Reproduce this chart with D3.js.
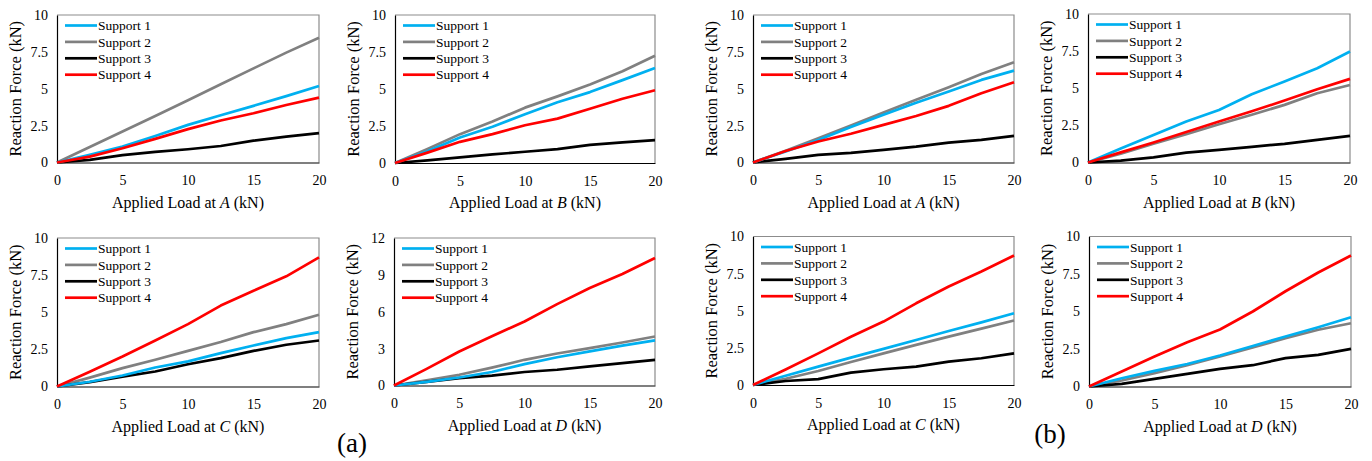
<!DOCTYPE html>
<html>
<head>
<meta charset="utf-8">
<script src="https://cdn.jsdelivr.net/npm/d3@7"></script>
<style>
  html, body { margin: 0; padding: 0; background: #fff; }
  svg { display: block; font-family: "Liberation Serif", "Times New Roman", serif; }
</style>
</head>
<body>
<svg id="chart" width="1372" height="461"></svg>
<script>
// Applied load steps (kN), shared by every panel
const load = [0, 2.5, 5, 7.5, 10, 12.5, 15, 17.5, 20];
const xTicks = [0, 5, 10, 15, 20];
const supports = ["Support 1", "Support 2", "Support 3", "Support 4"];

// Reaction forces (kN) for Supports 1-4, group (a)
const reactA_a = [
  [0, 0.52, 1.08, 1.80, 2.55, 3.20, 3.84, 4.50, 5.19],
  [0, 1.05, 2.10, 3.15, 4.22, 5.30, 6.38, 7.45, 8.46],
  [0, 0.18, 0.50, 0.72, 0.90, 1.12, 1.48, 1.75, 1.99],
  [0, 0.40, 0.97, 1.60, 2.26, 2.85, 3.34, 3.90, 4.40]
];
const reactB_a = [
  [0, 0.80, 1.72, 2.45, 3.29, 4.10, 4.79, 5.60, 6.42],
  [0, 0.95, 1.95, 2.80, 3.74, 4.50, 5.30, 6.20, 7.25],
  [0, 0.18, 0.38, 0.58, 0.76, 0.94, 1.23, 1.39, 1.54],
  [0, 0.70, 1.43, 1.95, 2.55, 3.00, 3.67, 4.34, 4.92]
];
const reactC_a = [
  [0, 0.32, 0.74, 1.28, 1.69, 2.25, 2.76, 3.26, 3.66],
  [0, 0.60, 1.24, 1.80, 2.40, 3.00, 3.66, 4.20, 4.83],
  [0, 0.30, 0.67, 1.01, 1.50, 1.91, 2.40, 2.81, 3.10],
  [0, 1.00, 2.02, 3.10, 4.20, 5.45, 6.45, 7.42, 8.70]
];
const reactD_a = [
  [0, 0.30, 0.65, 1.10, 1.74, 2.30, 2.77, 3.25, 3.67],
  [0, 0.42, 0.87, 1.45, 2.09, 2.60, 3.04, 3.50, 3.99],
  [0, 0.30, 0.60, 0.81, 1.10, 1.28, 1.55, 1.82, 2.09],
  [0, 1.35, 2.77, 4.00, 5.21, 6.62, 7.93, 9.07, 10.37]
];

// Reaction forces (kN) for Supports 1-4, group (b)
const reactA_b = [
  [0, 0.75, 1.53, 2.40, 3.23, 4.05, 4.81, 5.60, 6.23],
  [0, 0.80, 1.65, 2.50, 3.39, 4.25, 5.10, 6.00, 6.79],
  [0, 0.25, 0.52, 0.65, 0.86, 1.08, 1.35, 1.53, 1.81],
  [0, 0.78, 1.42, 1.95, 2.55, 3.15, 3.84, 4.70, 5.44]
];
const reactB_b = [
  [0, 0.95, 1.86, 2.76, 3.54, 4.60, 5.45, 6.35, 7.47],
  [0, 0.60, 1.26, 1.90, 2.58, 3.22, 3.88, 4.66, 5.22],
  [0, 0.13, 0.35, 0.67, 0.85, 1.05, 1.26, 1.52, 1.79],
  [0, 0.68, 1.35, 2.05, 2.76, 3.45, 4.17, 4.93, 5.63]
];
const reactC_b = [
  [0, 0.62, 1.24, 1.84, 2.43, 3.03, 3.64, 4.22, 4.83],
  [0, 0.42, 0.94, 1.55, 2.13, 2.70, 3.26, 3.80, 4.34],
  [0, 0.27, 0.40, 0.83, 1.06, 1.24, 1.57, 1.80, 2.13],
  [0, 1.05, 2.13, 3.25, 4.27, 5.50, 6.63, 7.64, 8.72]
];
const reactD_b = [
  [0, 0.55, 1.04, 1.50, 2.07, 2.70, 3.33, 3.95, 4.62],
  [0, 0.40, 0.89, 1.42, 2.00, 2.60, 3.22, 3.78, 4.22],
  [0, 0.18, 0.51, 0.84, 1.18, 1.42, 1.89, 2.11, 2.51],
  [0, 1.00, 2.00, 2.95, 3.80, 5.00, 6.35, 7.60, 8.73]
];

// Y-axis tick labels
const yTicks10 = [0, 2.5, 5, 7.5, 10];
const yTicks12 = [0, 3, 6, 9, 12];

const colors = ["#00b0f0", "#808080", "#000000", "#ff0000"];

const svg = d3.select("#chart");

// plot-area boxes: left, right, top, bottom
const panels = [
  { box: [57, 319, 15, 162.5],   data: reactA_a, point: "A", yt: yTicks10 },
  { box: [395, 655, 15, 163],    data: reactB_a, point: "B", yt: yTicks10 },
  { box: [753, 1014, 15, 162.5], data: reactA_b, point: "A", yt: yTicks10 },
  { box: [1088, 1350, 14, 162.5],data: reactB_b, point: "B", yt: yTicks10 },
  { box: [57, 319, 238, 386.5],  data: reactC_a, point: "C", yt: yTicks10 },
  { box: [394, 655, 238, 385.5], data: reactD_a, point: "D", yt: yTicks12 },
  { box: [753, 1014, 236.5, 385],data: reactC_b, point: "C", yt: yTicks10 },
  { box: [1089, 1351, 236.5, 386.5], data: reactD_b, point: "D", yt: yTicks10 }
];

panels.forEach(p => {
  const [L, R, T, B] = p.box;
  const yMax = p.yt[p.yt.length - 1];
  const x = d3.scaleLinear().domain([0, 20]).range([L, R]);
  const y = d3.scaleLinear().domain([0, yMax]).range([B, T]);
  const g = svg.append("g");

  // top/right frame of the plot area
  g.append("path")
    .attr("d", `M${L},${T}H${R}V${B}`)
    .attr("fill", "none").attr("stroke", "#8c8c8c").attr("stroke-width", 1.2);

  // axes
  const xa = g.append("g").attr("transform", `translate(0,${B})`)
    .call(d3.axisBottom(x).tickValues(xTicks).tickSize(0).tickPadding(13).tickFormat(d3.format("d")));
  const ya = g.append("g").attr("transform", `translate(${L},0)`)
    .call(d3.axisLeft(y).tickValues(p.yt).tickSize(0).tickPadding(9).tickFormat(d => String(d)));
  [xa, ya].forEach(a => {
    a.attr("font-family", null);
    a.select(".domain").attr("stroke", "#000").attr("stroke-width", 1.2);
    a.selectAll("text").attr("font-family", "Liberation Serif").attr("font-size", 14).attr("fill", "#000");
  });

  // series lines
  const line = d3.line().x((d, i) => x(load[i])).y(d => y(d));
  [1, 2, 0, 3].forEach(k => {
    g.append("path").datum(p.data[k])
      .attr("d", line)
      .attr("fill", "none")
      .attr("stroke", colors[k])
      .attr("stroke-width", 2.7)
      .attr("stroke-linejoin", "round");
  });

  // legend
  supports.forEach((name, k) => {
    const ly = T + 10.5 + k * 16.4;
    g.append("line")
      .attr("x1", L + 8).attr("x2", L + 40).attr("y1", ly).attr("y2", ly)
      .attr("stroke", colors[k]).attr("stroke-width", 2.7);
    g.append("text")
      .attr("x", L + 41).attr("y", ly).attr("dy", "0.35em")
      .attr("font-size", 13.5).text(name);
  });

  // axis titles
  const xt = g.append("text")
    .attr("x", (L + R) / 2).attr("y", B + 45)
    .attr("text-anchor", "middle").attr("font-size", 16);
  xt.append("tspan").text("Applied Load at ");
  xt.append("tspan").attr("font-style", "italic").text(p.point);
  xt.append("tspan").text(" (kN)");

  g.append("text")
    .attr("transform", `translate(${L - 36},${(T + B) / 2}) rotate(-90)`)
    .attr("text-anchor", "middle").attr("font-size", 16.5)
    .text("Reaction Force (kN)");
});

// group labels
svg.append("text").attr("x", 352).attr("y", 452).attr("text-anchor", "middle")
  .attr("font-size", 27).text("(a)");
svg.append("text").attr("x", 1050).attr("y", 443).attr("text-anchor", "middle")
  .attr("font-size", 27).text("(b)");
</script>
</body>
</html>
